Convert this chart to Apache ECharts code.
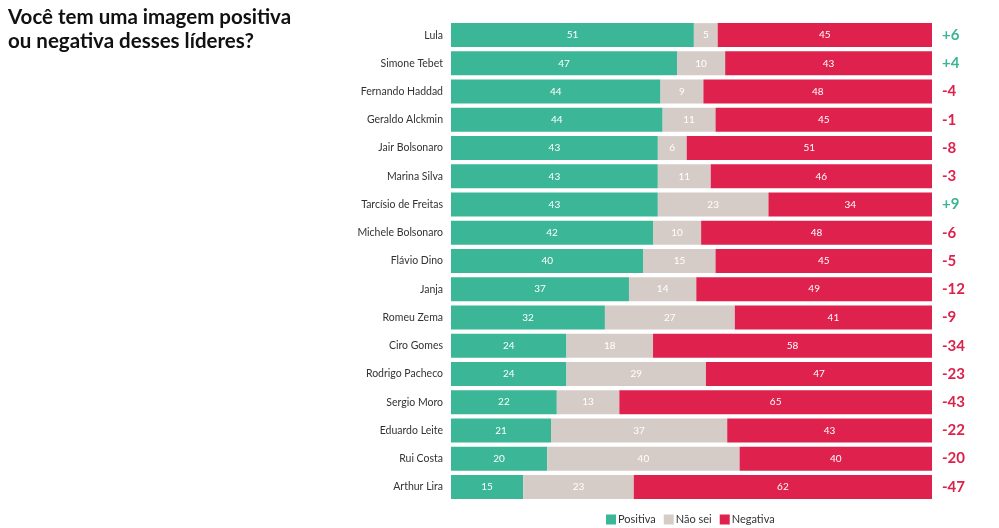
<!DOCTYPE html>
<html><head><meta charset="utf-8">
<script src="https://cdn.jsdelivr.net/npm/echarts@6/dist/echarts.min.js"></script>
<style>html,body{margin:0;padding:0;background:#fff}#c{width:999px;height:528px}</style>
</head><body><div id="c"></div>
<script>
const categories = ["Lula","Simone Tebet","Fernando Haddad","Geraldo Alckmin","Jair Bolsonaro","Marina Silva","Tarcísio de Freitas","Michele Bolsonaro","Flávio Dino","Janja","Romeu Zema","Ciro Gomes","Rodrigo Pacheco","Sergio Moro","Eduardo Leite","Rui Costa","Arthur Lira"];
const positiva = [51,47,44,44,43,43,43,42,40,37,32,24,24,22,21,20,15];
const naoSei   = [5,10,9,11,6,11,23,10,15,14,27,18,29,13,37,40,23];
const negativa = [45,43,48,45,51,46,34,48,45,49,41,58,47,65,43,40,62];
const saldo = ["+6","+4","-4","-1","-8","-3","+9","-6","-5","-12","-9","-34","-23","-43","-22","-20","-47"];

const totals = categories.map((_, i) => positiva[i] + naoSei[i] + negativa[i]);
const norm = arr => arr.map((v, i) => ({ value: v / totals[i] * 100, raw: v }));

const chart = echarts.init(document.getElementById('c'));
const label = { show: true, color: '#fff', fontSize: 10, fontFamily: 'Lato', formatter: p => p.data.raw };
chart.setOption({
  animation: false,
  title: {
    text: 'Você tem uma imagem positiva\nou negativa desses líderes?',
    left: 3, top: 0,
    textStyle: { fontFamily: 'Lato', fontWeight: 'bold', fontSize: 20.5, lineHeight: 24, color: '#111' }
  },
  legend: {
    bottom: -2, left: 601, itemWidth: 10, itemHeight: 10, itemGap: 8,
    icon: 'rect',
    textStyle: { fontFamily: 'Lato', fontSize: 11, color: '#333', padding: [0,0,0,-3] },
    data: ['Positiva', 'Não sei', 'Negativa']
  },
  grid: { left: 451, right: 67, top: 21, bottom: 27 },
  xAxis: { type: 'value', min: 0, max: 100, show: false },
  yAxis: [{
    type: 'category', data: categories, inverse: true,
    axisLine: { show: false }, axisTick: { show: false },
    axisLabel: { fontFamily: 'Lato', fontSize: 10.5, color: '#333', margin: 8 }
  }, {
    type: 'category', data: saldo, inverse: true, position: 'right',
    axisLine: { show: false }, axisTick: { show: false },
    axisLabel: {
      margin: 10, align: 'left',
      formatter: v => (v.startsWith('+') ? '{p|' : '{n|') + v + '}',
      rich: {
        p: { color: '#3bb594', fontFamily: 'Lato', fontWeight: 'bold', fontSize: 15 },
        n: { color: '#dc214a', fontFamily: 'Lato', fontWeight: 'bold', fontSize: 15 }
      }
    }
  }],
  series: [
    { name: 'Positiva', type: 'bar', stack: 't', data: norm(positiva), barCategoryGap: '15%', itemStyle: { color: '#3bb697' }, label },
    { name: 'Não sei', type: 'bar', stack: 't', data: norm(naoSei), itemStyle: { color: '#d6ccc7' }, label },
    { name: 'Negativa', type: 'bar', stack: 't', data: norm(negativa), itemStyle: { color: '#df214d' }, label }
  ]
});
</script></body></html>
